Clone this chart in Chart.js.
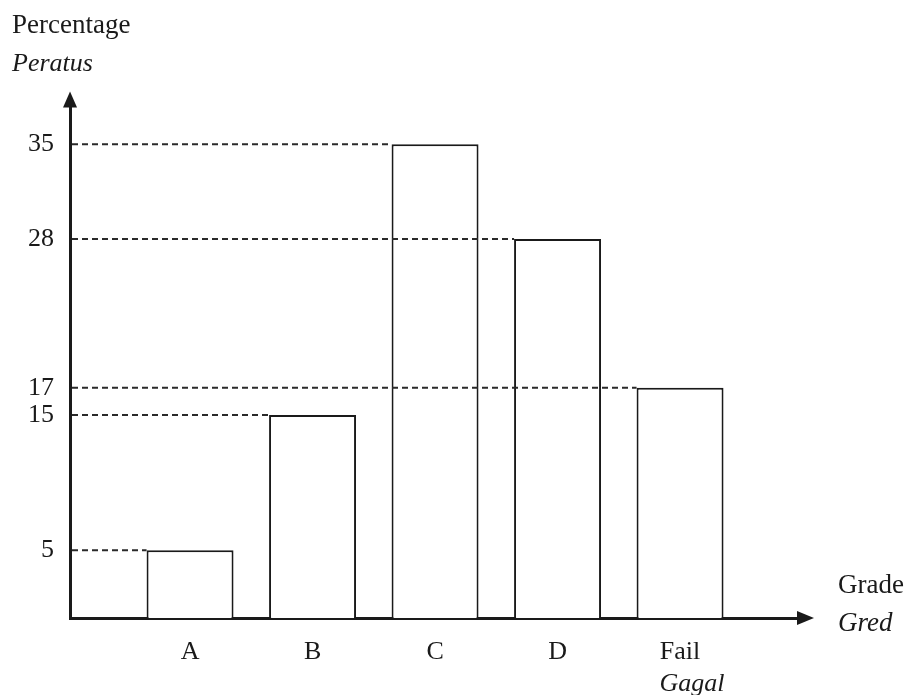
<!DOCTYPE html>
<html>
<head>
<meta charset="utf-8">
<script src="https://cdn.jsdelivr.net/npm/chart.js@4/dist/chart.umd.min.js"></script>
<style>
  html, body { margin: 0; padding: 0; background: #fff; }
  #wrap { width: 914px; height: 695px; position: relative; }
</style>
</head>
<body>
<div id="wrap"><canvas id="c" width="914" height="695"></canvas></div>
<script>
// ---- data ----
const grades = ['A', 'B', 'C', 'D', 'Fail'];
const gradesMalay = ['', '', '', '', 'Gagal'];
const gradePositions = [1, 2, 3, 4, 5];
const percentages = [5, 15, 35, 28, 17];
const yTickValues = [5, 15, 17, 28, 35];
const yTitle = 'Percentage';
const yTitleMalay = 'Peratus';
const xTitle = 'Grade';
const xTitleMalay = 'Gred';

const SERIF = "'Liberation Serif', 'Times New Roman', 'DejaVu Serif', serif";
const INK = '#1a1a1a';

const points = gradePositions.map((x, i) => ({ x: x, y: percentages[i] }));

const axisDecor = {
  id: 'axisDecor',
  afterDatasetsDraw(chart) {
    const { ctx, chartArea } = chart;
    const meta = chart.getDatasetMeta(0);
    const ys = chart.scales.y;
    ctx.save();
    ctx.strokeStyle = '#2a2a2a';
    ctx.lineWidth = 2;
    ctx.setLineDash([6, 4]);
    meta.data.forEach((bar, i) => {
      const p = bar.getProps(['x', 'y', 'width'], true);
      const y = ys.getPixelForValue(percentages[i]);
      ctx.beginPath();
      ctx.moveTo(chartArea.left + 2, y);
      ctx.lineTo(p.x - p.width / 2, y);
      ctx.stroke();
    });
    ctx.restore();
  },
  afterDraw(chart) {
    const { ctx, chartArea } = chart;
    ctx.save();
    ctx.fillStyle = INK;
    ctx.strokeStyle = INK;
    ctx.lineWidth = 3;
    // y axis arrow
    const x0 = chartArea.left, yb = chartArea.bottom, yt = chartArea.top;
    ctx.beginPath();
    ctx.moveTo(x0, yt - 12);
    ctx.lineTo(x0 - 7, yt + 4);
    ctx.lineTo(x0 + 7, yt + 4);
    ctx.closePath();
    ctx.fill();
    // x axis arrow
    const xr = chartArea.right;
    ctx.beginPath();
    ctx.moveTo(xr + 9, yb);
    ctx.lineTo(xr - 8, yb - 7);
    ctx.lineTo(xr - 8, yb + 7);
    ctx.closePath();
    ctx.fill();
    // x axis title
    ctx.textAlign = 'left';
    ctx.textBaseline = 'middle';
    ctx.font = '27px ' + SERIF;
    ctx.fillText(xTitle, xr + 33, yb - 32);
    ctx.font = 'italic 27px ' + SERIF;
    ctx.fillText(xTitleMalay, xr + 33, yb + 6);
    ctx.restore();
  }
};

new Chart(document.getElementById('c'), {
  type: 'bar',
  data: {
    datasets: [{
      data: points,
      backgroundColor: '#ffffff',
      borderColor: INK,
      borderWidth: 2,
      borderSkipped: 'bottom',
      barPercentage: 0.71,
      categoryPercentage: 1,
      xAxisID: 'x',
      yAxisID: 'y'
    }]
  },
  options: {
    responsive: false,
    animation: false,
    devicePixelRatio: 1,
    layout: { padding: { left: 12, right: 109, top: 0, bottom: 0 } },
    plugins: {
      legend: { display: false },
      tooltip: { enabled: false },
      title: {
        display: true, text: yTitle, align: 'start', color: INK,
        font: { family: SERIF, size: 27, weight: 'normal' },
        padding: { top: 10, bottom: 3 }
      },
      subtitle: {
        display: true, text: yTitleMalay, align: 'start', color: INK,
        font: { family: SERIF, size: 26, style: 'italic', weight: 'normal' },
        padding: { top: 3, bottom: 24 }
      }
    },
    scales: {
      x: {
        type: 'linear', position: 'bottom', min: 0.02, max: 6.02, weight: 0, offset: false,
        grid: { display: false },
        border: { display: true, color: INK, width: 3 },
        afterBuildTicks: s => { s.ticks = gradePositions.map(v => ({ value: v })); },
        afterFit: s => { s.height = 41; },
        ticks: {
          color: INK, padding: 11, maxRotation: 0, autoSkip: false,
          font: { family: SERIF, size: 26 },
          callback: (v) => grades[gradePositions.indexOf(v)] ?? ''
        }
      },
      x2: {
        type: 'linear', position: 'bottom', min: 0.02, max: 6.02, weight: 1, offset: false,
        grid: { display: false },
        border: { display: false },
        afterBuildTicks: s => { s.ticks = gradePositions.map(v => ({ value: v })); },
        afterFit: s => { s.height = 36; },
        ticks: {
          color: INK, padding: 2, maxRotation: 0, autoSkip: false, labelOffset: 12,
          font: { family: SERIF, size: 26, style: 'italic' },
          callback: (v) => gradesMalay[gradePositions.indexOf(v)] ?? ''
        }
      },
      y: {
        type: 'linear', min: 0, max: 38,
        grid: { display: false },
        border: { display: true, color: INK, width: 3 },
        afterBuildTicks: s => { s.ticks = yTickValues.map(v => ({ value: v })); },
        afterFit: s => { s.width = 58; },
        ticks: {
          color: INK, padding: 8, autoSkip: false,
          font: { family: SERIF, size: 26 }
        }
      }
    }
  },
  plugins: [axisDecor]
});
</script>
</body>
</html>
